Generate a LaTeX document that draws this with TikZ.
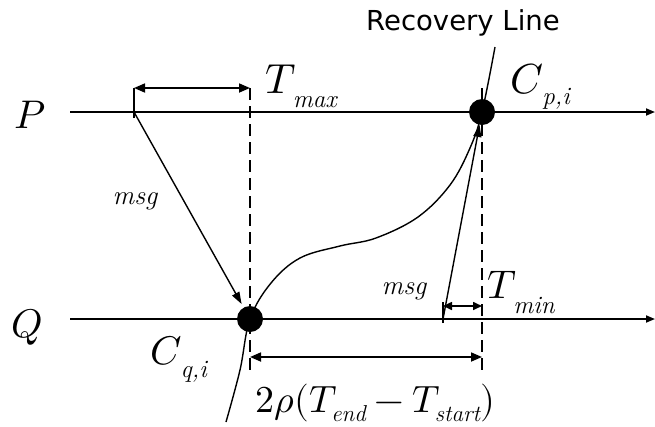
\documentclass[tikz,border=0pt]{standalone}
\usepackage{fontspec}
\usepackage{unicode-math}
\setmathfont{Latin Modern Math}
\newfontfamily\rlfont{DejaVu Sans}
\usetikzlibrary{arrows.meta}
\tikzset{
 axisline/.style={line width=1.7pt,-{Triangle[length=9pt,width=7pt]}},
 dline/.style={line width=1.4pt,dash pattern=on 12pt off 6pt},
 tickline/.style={line width=1.5pt},
 dimarrow/.style={line width=1.7pt,{Triangle[length=11pt,width=9pt]}-{Triangle[length=11pt,width=9pt]}},
 smalldim/.style={line width=1.6pt,{Triangle[length=9pt,width=8pt]}-{Triangle[length=9pt,width=8pt]}},
 msgarrow/.style={line width=1.4pt,-{Triangle[length=12pt,width=8pt]}},
 curveline/.style={line width=1.4pt},
 dotnode/.style={circle,fill=black,inner sep=0pt,minimum size=26pt},
 lbl/.style={inner sep=0pt,anchor=base west},
 clbl/.style={inner sep=0pt,anchor=center},
}
\newcommand{\sz}[2]{{\fontsize{#1}{#1}\selectfont #2}}
\newcommand{\bigsub}[5]{\sz{#1}{$#2$}\kern#5\raisebox{-#4}{\sz{25}{\itshape #3}}}
\newcommand{\fsub}[1]{\hbox{\fontsize{23}{23}\selectfont\itshape #1}}
\begin{document}
\begin{tikzpicture}[x=1pt,y=-1pt]
\useasboundingbox (0,0) rectangle (655,426);
% process lines
\coordinate (Ps) at (70,112);
\coordinate (Pe) at (655,112);
\coordinate (Qs) at (70,319);
\coordinate (Qe) at (655,319);
\draw[axisline] (Ps) -- (Pe);
\draw[axisline] (Qs) -- (Qe);
% dashed verticals
\coordinate (lt) at (250,88);
\coordinate (lb) at (250,370);
\coordinate (rt) at (482,88);
\coordinate (rb) at (482,370);
\draw[dline] (lt) -- (lb);
\draw[dline] (rt) -- (rb);
% checkpoints
\node[dotnode] (cp) at (482,112) {};
\node[dotnode] (cq) at (250,319) {};
% recovery line curve
\coordinate (r0) at (226,422);
\coordinate (rtop) at (495,47);
\draw[curveline] plot[smooth,tension=0.6] coordinates {(r0) (240,370) (cq.center) (271,283) (300,258) (340,246) (376,238) (418,217) (450,185) (470,148) (cp.center) (rtop)};
% Tmax bracket
\coordinate (tl) at (134,88);
\coordinate (tlb) at (134,118);
\coordinate (ltd) at (250,88);
\draw[tickline] (tlb) -- (tl);
\draw[dimarrow] (tl) -- (ltd);
% msg 1
\coordinate (m1) at (134,112);
\draw[msgarrow,shorten >=4pt] (m1) -- (cq);
% msg 2 and Tmin bracket
\coordinate (m2) at (443,319);
\coordinate (m2t) at (443,302);
\coordinate (m2b) at (443,323);
\coordinate (tmr) at (482,306);
\coordinate (tml) at (443,306);
\draw[tickline] (m2b) -- (m2t);
\draw[msgarrow] (m2) -- (cp);
\draw[smalldim] (tml) -- (tmr);
% bottom dimension
\coordinate (bl) at (250,357);
\coordinate (br) at (482,357);
\draw[dimarrow] (bl) -- (br);
% labels
\node[clbl] (rl) at (463,23) {\rlfont\sz{27.5}{Recovery Line}};
\node[lbl] (Pl) at (14,128) {\sz{40}{$P$}};
\node[lbl] (Ql) at (11,337) {\sz{40}{$Q$}};
\node[lbl] (tmax) at (265,93) {\bigsub{42}{T}{max}{14pt}{-3pt}};
\node[lbl] (cpl) at (510,93) {\bigsub{42}{C}{p,i}{11pt}{-1pt}};
\node[lbl] (cql) at (150,364) {\bigsub{40}{C}{q,i}{13pt}{-1pt}};
\node[lbl] (tmin) at (487,298) {\bigsub{40}{T}{min}{15pt}{-3pt}};
\node[clbl] (msg1) at (135,201) {\sz{27}{\itshape msg}};
\node[clbl] (msg2) at (404,291) {\sz{27}{\itshape msg}};
\node[lbl] (form) at (255,412) {\sz{38}{$2\rho(T_{\fsub{end}}-T_{\fsub{start}})$}};
\end{tikzpicture}
\end{document}
